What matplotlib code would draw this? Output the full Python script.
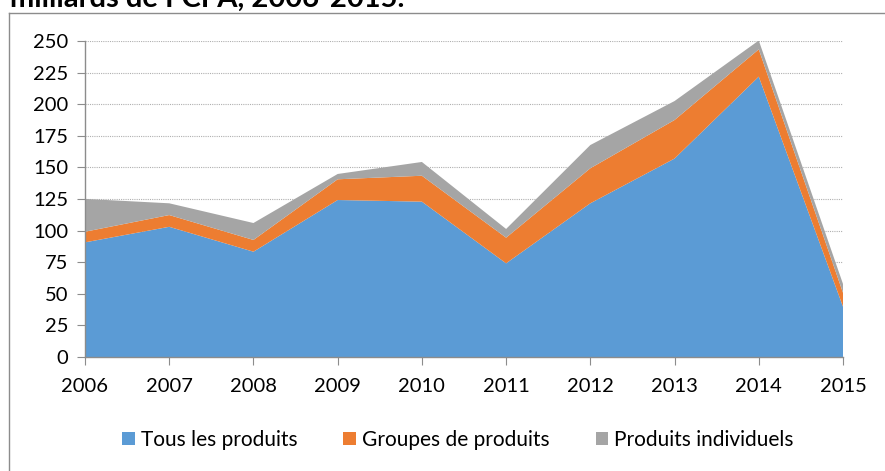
import matplotlib
matplotlib.use('Agg')
import matplotlib.pyplot as plt
from matplotlib.lines import Line2D
from matplotlib.patches import Patch

plt.rcParams['font.family'] = ['Lato', 'DejaVu Sans']

annees = [2006, 2007, 2008, 2009, 2010, 2011, 2012, 2013, 2014, 2015]
tous_produits = [90.7, 103, 83.3, 124.2, 122.9, 74.1, 121.6, 157, 221.8, 39.8]
groupes_produits = [8.4, 9.3, 9.3, 16.4, 20.5, 20.3, 27.7, 30.5, 21.6, 11]
produits_individuels = [26, 9.3, 13.4, 4.2, 10.9, 6.9, 18.4, 15, 7, 7]
noms = ['Tous les produits', 'Groupes de produits', 'Produits individuels']
couleurs = ['#5b9bd5', '#ed7d31', '#a5a5a5']

W, H = 885, 471
fig = plt.figure(figsize=(W / 100, H / 100), dpi=100)
ax = fig.add_axes([85 / W, 1 - 357 / H, (843 - 85) / W, (357 - 41) / H])

ax.stackplot(annees, tous_produits, groupes_produits, produits_individuels,
             colors=couleurs, labels=noms, zorder=2)

ax.set_xlim(2006, 2015)
ax.set_ylim(0, 250)
ax.set_yticks(range(0, 251, 25))
ax.set_xticks(annees)
ax.yaxis.grid(True, linestyle=(0, (1, 1)), color='#b0b0b0', linewidth=0.8, zorder=1)
ax.set_axisbelow(True)

for s in ['top', 'right']:
    ax.spines[s].set_visible(False)
for s in ['left', 'bottom']:
    ax.spines[s].set_color('#8c8c8c')
    ax.spines[s].set_linewidth(1)
    ax.spines[s].set_zorder(3)
ax.tick_params(axis='y', direction='out', length=6, color='#8c8c8c', labelsize=14.5, pad=6)
ax.tick_params(axis='x', direction='out', length=6, color='#8c8c8c', labelsize=14.5, pad=9)

# cadre du graphique et titre coupe en haut
fig.add_artist(Line2D([9 / W, 9 / W], [0, 1 - 13 / H], transform=fig.transFigure,
                      color='#8c8c8c', linewidth=1))
fig.add_artist(Line2D([9 / W, 1], [1 - 13 / H, 1 - 13 / H], transform=fig.transFigure,
                      color='#8c8c8c', linewidth=1))
fig.text(10 / W, 1 - 7 / H, 'milliards de FCFA, 2006-2015.', fontsize=21,
         fontweight='bold', va='baseline', ha='left')

handles = [Patch(facecolor=c, edgecolor='none') for c in couleurs]
fig.legend(handles, noms, loc='center', bbox_to_anchor=(458 / W, 1 - 440 / H),
           ncol=3, frameon=False, fontsize=15, handlelength=0.6, handleheight=0.6,
           handletextpad=0.3, columnspacing=2.2)

fig.savefig('out.png', dpi=100)
